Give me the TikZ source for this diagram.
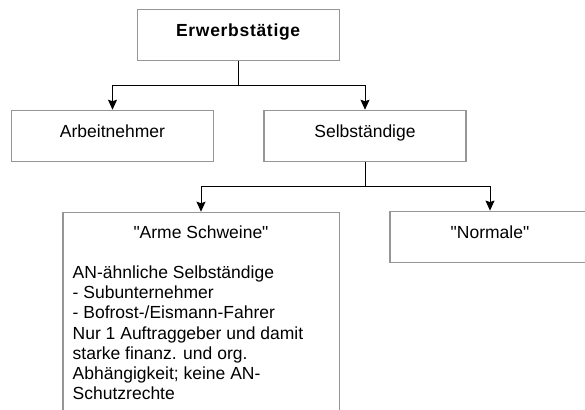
\documentclass[tikz,border=0pt]{standalone}
\usepackage{fontspec}
\setmainfont{Liberation Sans}
\usetikzlibrary{arrows.meta}
\definecolor{boxgray}{RGB}{150,150,150}
\newcommand{\diafont}{\fontsize{17.5}{20.2}\selectfont}
\begin{document}
\begin{tikzpicture}[x=1pt,y=-1pt,
  box/.style={draw=boxgray, line width=1.5pt, minimum width=202pt, minimum height=51pt,
    inner sep=0pt, text height=12pt, text depth=9pt, font=\diafont},
  plain/.style={inner sep=0pt, font=\diafont},
  link/.style={line width=1pt},
  conn/.style={line width=1pt, -{Stealth[length=10pt,width=9pt,inset=1.5pt]}}
  ]
\useasboundingbox (0,0) rectangle (585,409);
\fill[white] (0,0) rectangle (585,409);
\node[box] (erw) at (238.5,35) {\addfontfeature{LetterSpace=4}\textbf{Erwerbstätige}};
\node[box] (an) at (112.5,136) {Arbeitnehmer};
\node[box] (sel) at (365,136) {Selbständige};
\node[box, minimum width=200pt] (norm) at (490,236.85) {\textquotedbl Normale\textquotedbl};
\node[box, minimum width=276.5pt, minimum height=240pt, anchor=north] (arme) at (201,211.7) {};
\node[plain, anchor=base] (armetitle) at (201,238.7) {\textquotedbl Arme Schweine\textquotedbl};
\node[plain, anchor=base west] (armetext) at (72.5,278.4) {\parbox[t]{262pt}{\raggedright\diafont
AN-ähnliche Selbständige\\
- Subunternehmer\\
- Bofrost-/Eismann-Fahrer\\
Nur 1 Auftraggeber und damit\\
starke finanz. und org.\\
Abhängigkeit; keine AN-\\
Schutzrechte}};
\draw[link] (erw.south) -- ++(0,24.5) coordinate (j1);
\draw[conn] (j1) -| (an.north);
\draw[conn] (j1) -| (sel.north);
\draw[link] (sel.south) -- ++(0,24.5) coordinate (j2);
\draw[conn] (j2) -| (arme.north);
\draw[conn] (j2) -| (norm.north);
\end{tikzpicture}
\end{document}
